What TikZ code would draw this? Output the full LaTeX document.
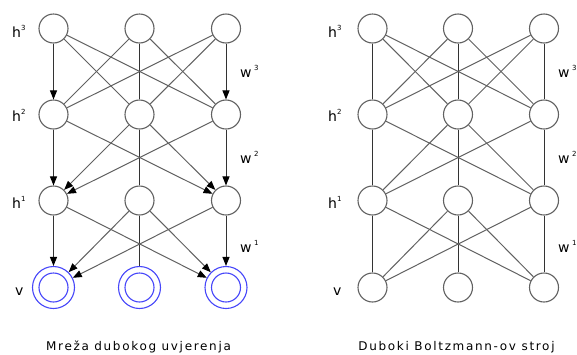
\documentclass[tikz,border=0pt]{standalone}
\usepackage{fontspec}
\setmainfont{DejaVu Sans}
\newfontfamily\capfont[LetterSpace=14]{DejaVu Sans}
\usetikzlibrary{arrows.meta}
\definecolor{vblue}{RGB}{70,70,250}
\newcommand\lab[3][0pt]{{\fontsize{14}{14}\selectfont #2}\hspace{#1}\raisebox{7pt}{\fontsize{7}{7}\selectfont #3}}
\begin{document}
\begin{tikzpicture}[x=1pt,y=-1pt,
  neuron/.style={circle,draw=black!62,line width=1.1pt,minimum size=29pt,inner sep=0pt,fill=white},
  visout/.style={circle,draw=vblue,line width=1.1pt,minimum size=42pt,inner sep=0pt,fill=white},
  visin/.style={draw=vblue,line width=1.1pt},
  vline/.style={draw=black!80,line width=1pt},
  dline/.style={draw=black!62,line width=1pt},
  arr/.style={-{Triangle[length=9pt,width=7pt,color=black]}},
  lbl/.style={anchor=base west,inner sep=0pt},
  captext/.style={anchor=base,inner sep=0pt,font=\capfont\fontsize{12}{12}\selectfont}]
\fill[white] (0,0) rectangle (577,354);
\useasboundingbox (0,0) rectangle (577,354);
% nodes
\foreach \net/\xa/\xb/\xc in {L/53.5/139.5/226, R/372.5/458/544}{
  \foreach \lev/\y in {3/28.5,2/114.5,1/200.5}{
    \node[neuron] (\net\lev1) at (\xa,\y) {};
    \node[neuron] (\net\lev2) at (\xb,\y) {};
    \node[neuron] (\net\lev3) at (\xc,\y) {};
  }
}
\node[visout] (Lv1) at (53.5,287.5) {};
\node[visout] (Lv2) at (139.5,287.5) {};
\node[visout] (Lv3) at (226,287.5) {};
\foreach \n in {Lv1,Lv2,Lv3}{\draw[visin] (\n.center) circle[radius=14.5pt];}
\node[neuron] (Rv1) at (372.5,287.5) {};
\node[neuron] (Rv2) at (458,287.5) {};
\node[neuron] (Rv3) at (544,287.5) {};
% left network edges
\draw[vline,arr] (L31) -- (L21);
\draw[vline,arr] (L33) -- (L23);
\draw[vline] (L32) -- (L22);
\foreach \a/\b in {L31/L22,L31/L23,L32/L21,L32/L23,L33/L21,L33/L22}{\draw[dline] (\a) -- (\b);}
\draw[vline,arr] (L21) -- (L11);
\draw[vline,arr] (L23) -- (L13);
\draw[vline] (L22) -- (L12);
\foreach \a/\b in {L22/L11,L22/L13,L21/L13,L23/L11}{\draw[dline,arr] (\a) -- (\b);}
\draw[vline,arr] (L11) -- (Lv1);
\draw[vline,arr] (L13) -- (Lv3);
\draw[vline] (L12) -- (Lv2);
\foreach \a/\b in {L12/Lv1,L12/Lv3,L11/Lv3,L13/Lv1}{\draw[dline,arr] (\a) -- (\b);}
% right network edges
\foreach \a/\b in {R31/R21,R32/R22,R33/R23,R21/R11,R22/R12,R23/R13,R11/Rv1,R12/Rv2,R13/Rv3}{\draw[vline] (\a) -- (\b);}
\foreach \a/\b in {R31/R22,R31/R23,R32/R21,R32/R23,R33/R21,R33/R22,
  R22/R11,R22/R13,R21/R13,R23/R11,R12/Rv1,R12/Rv3,R11/Rv3,R13/Rv1}{\draw[dline] (\a) -- (\b);}
% labels
\node[lbl] (lh3) at (12,37) {\lab{h}{3}};
\node[lbl] (lh2) at (12,121.5) {\lab{h}{2}};
\node[lbl] (lh1) at (12,208) {\lab{h}{1}};
\node[lbl] (lv) at (15,295) {\fontsize{14}{14}\selectfont v};
\node[lbl] (lw3) at (240,77) {\lab[2.5pt]{w}{3}};
\node[lbl] (lw2) at (240,163) {\lab[2.5pt]{w}{2}};
\node[lbl] (lw1) at (240,252) {\lab[2.5pt]{w}{1}};
\node[lbl] (rh3) at (328,37) {\lab{h}{3}};
\node[lbl] (rh2) at (328,121.5) {\lab{h}{2}};
\node[lbl] (rh1) at (328,208) {\lab{h}{1}};
\node[lbl] (rv) at (333,295) {\fontsize{14}{14}\selectfont v};
\node[lbl] (rw3) at (558,77) {\lab[2.5pt]{w}{3}};
\node[lbl] (rw2) at (558,163) {\lab[2.5pt]{w}{2}};
\node[lbl] (rw1) at (558,252) {\lab[2.5pt]{w}{1}};
\node[captext] (c1) at (138.5,350.5) {Mreža dubokog uvjerenja};
\node[captext] (c2) at (456.5,350.5) {Duboki Boltzmann-ov stroj};
\end{tikzpicture}
\end{document}
